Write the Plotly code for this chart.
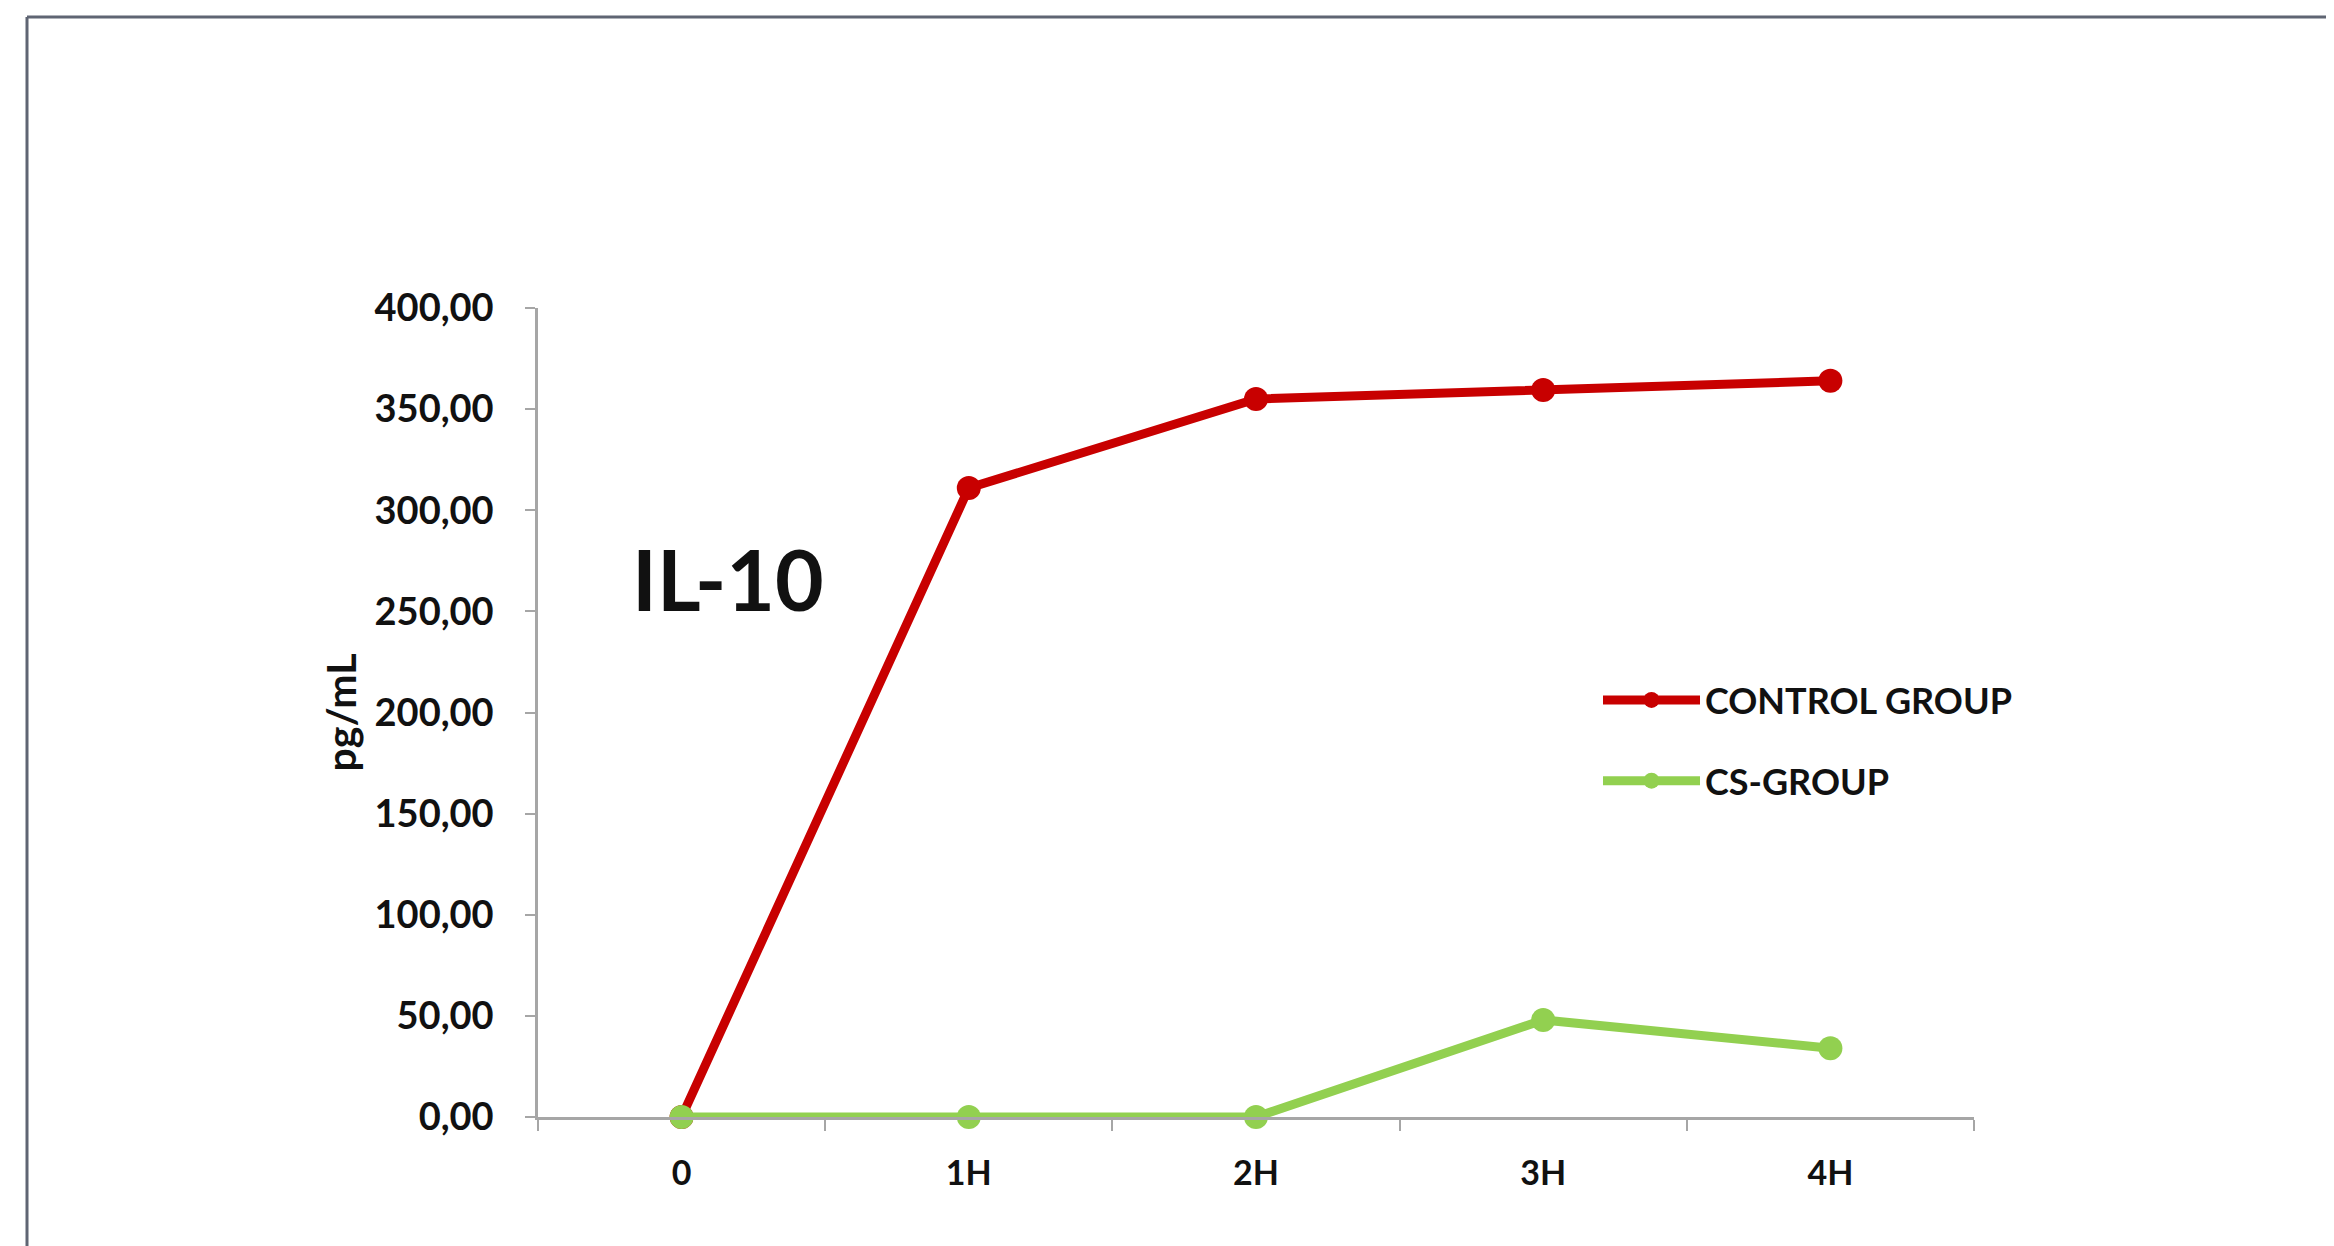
import plotly.graph_objects as go

categories = ["0", "1H", "2H", "3H", "4H"]
control_group = [0, 311, 355, 359.5, 364]
cs_group = [0, 0, 0, 48, 34]
series_names = ["CONTROL GROUP", "CS-GROUP"]
y_tick_values = [0, 50, 100, 150, 200, 250, 300, 350, 400]

W, H = 2334, 1246
OFF = 8  # page body margin
L, T = 538 - OFF, 308 - OFF
R = W - (1974 - OFF)
B = H - (1117 - OFF)
FONT = "Lato"

fig = go.Figure()
fig.add_trace(go.Scatter(
    x=categories, y=control_group, name=series_names[0], mode="lines+markers",
    legendgroup="a",
    line=dict(color="#C80000", width=9), marker=dict(color="#C80000", size=24),
    cliponaxis=False))
fig.add_trace(go.Scatter(
    x=categories, y=cs_group, name=series_names[1], mode="lines+markers",
    legendgroup="b",
    line=dict(color="#92D050", width=9), marker=dict(color="#92D050", size=24),
    cliponaxis=False))

pw, ph = W - L - R, H - T - B
def px_x(v):
    return (v - OFF - L) / pw
def px_y(v):
    return (H - B - (v - OFF)) / ph

fig.update_layout(
    width=W, height=H,
    margin=dict(l=L, r=R, t=T, b=B),
    paper_bgcolor="white", plot_bgcolor="white",
    separators=",.",
    font=dict(family=FONT, color="#111111"),
    showlegend=True,
    legend=dict(x=px_x(1598), y=px_y(670), xanchor="left", yanchor="top",
                font=dict(family=FONT, size=36, color="#111111", weight="bold"),
                bgcolor="rgba(0,0,0,0)", itemwidth=97, tracegroupgap=31),
    xaxis=dict(type="category", range=[-0.5, 4.5], showgrid=False, zeroline=False,
               showline=True, linecolor="#A6A6A6", linewidth=2.5,
               ticks="outside", tickson="boundaries", ticklen=11, tickwidth=2,
               tickcolor="#A6A6A6", ticklabelstandoff=24,
               tickfont=dict(family=FONT, size=34, color="#111111", weight="bold")),
    yaxis=dict(range=[0, 400], tickvals=y_tick_values, tickformat=".2f",
               showgrid=False, zeroline=False,
               showline=True, linecolor="#A6A6A6", linewidth=2.5,
               ticks="outside", ticklen=10, tickwidth=2, tickcolor="#A6A6A6",
               ticklabelstandoff=24,
               tickfont=dict(family=FONT, size=38, color="#111111", weight="bold"),
               title=dict(text="pg/mL", standoff=6,
                          font=dict(family=FONT, size=41, color="#111111", weight="bold"))),
    annotations=[dict(text="IL-10", xref="paper", yref="paper",
                      x=px_x(728), y=px_y(578), xanchor="center", yanchor="middle",
                      showarrow=False,
                      font=dict(family=FONT, size=84, color="#111111", weight="bold"))],
    shapes=[
        dict(type="line", xref="paper", yref="paper", x0=px_x(27), x1=px_x(27),
             y0=px_y(17), y1=px_y(1300), line=dict(color="#5F6573", width=3)),
        dict(type="line", xref="paper", yref="paper", x0=px_x(27), x1=px_x(2400),
             y0=px_y(17), y1=px_y(17), line=dict(color="#5F6573", width=3)),
    ],
)

fig.write_html("out.html")
